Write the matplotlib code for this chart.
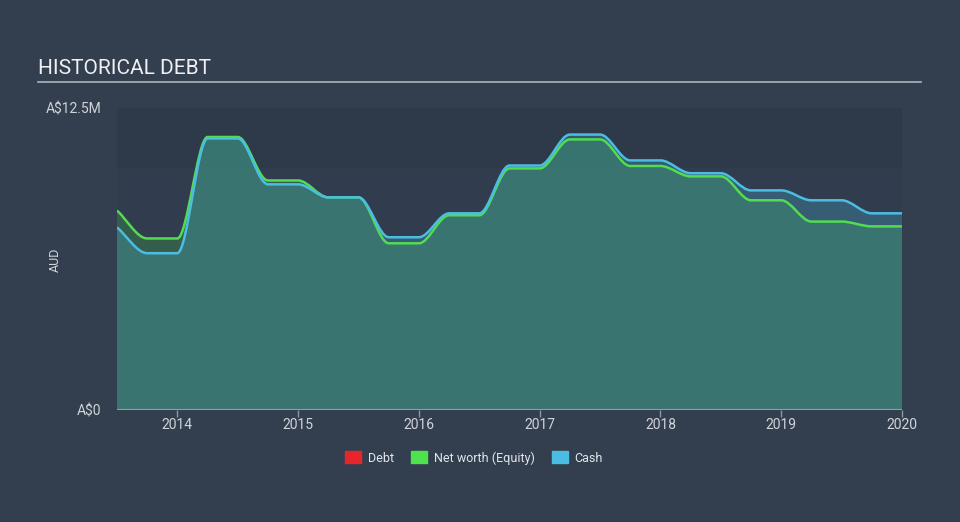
import numpy as np
import matplotlib
matplotlib.use("Agg")
import matplotlib.pyplot as plt
from matplotlib.path import Path
from matplotlib.patches import PathPatch

plt.rcParams['font.family'] = ['Roboto', 'DejaVu Sans']

# data (A$ millions), quarterly points in decimal years
years = [2013.5, 2013.75, 2014.0, 2014.25, 2014.5, 2014.75, 2015.0, 2015.25, 2015.5,
         2015.75, 2016.0, 2016.25, 2016.5, 2016.75, 2017.0, 2017.25, 2017.5, 2017.75,
         2018.0, 2018.25, 2018.5, 2018.75, 2019.0, 2019.25, 2019.5, 2019.75, 2020.0]
equity = [8.26, 7.1, 7.1, 11.3, 11.3, 9.5, 9.5, 8.8, 8.8,
          6.9, 6.9, 8.06, 8.06, 10.0, 10.0, 11.2, 11.2, 10.1,
          10.1, 9.67, 9.67, 8.68, 8.68, 7.8, 7.8, 7.6, 7.6]
cash = [7.56, 6.49, 6.49, 11.24, 11.24, 9.34, 9.34, 8.8, 8.8,
        7.15, 7.15, 8.14, 8.14, 10.12, 10.12, 11.4, 11.4, 10.33,
        10.33, 9.8, 9.8, 9.09, 9.09, 8.68, 8.68, 8.14, 8.14]
debt = [0.0] * len(years)

BG = '#333f4f'


def monotone_path(x, y, close=False):
    # cubic bezier segments, flat tangents at turning/plateau points
    x = np.asarray(x, float)
    y = np.asarray(y, float)
    h = np.diff(x)
    s = np.diff(y) / h
    m = np.zeros(len(x))
    for i in range(1, len(x) - 1):
        if s[i - 1] * s[i] > 0:
            m[i] = 2.0 / (1.0 / s[i - 1] + 1.0 / s[i])
    m[0] = s[0]
    m[-1] = s[-1]
    verts = [(x[0], y[0])]
    codes = [Path.MOVETO]
    for i in range(len(x) - 1):
        d = h[i] / 3.0
        verts += [(x[i] + d, y[i] + m[i] * d), (x[i + 1] - d, y[i + 1] - m[i + 1] * d),
                  (x[i + 1], y[i + 1])]
        codes += [Path.CURVE4] * 3
    if close:
        verts += [(x[-1], 0), (x[0], 0), (x[0], y[0])]
        codes += [Path.LINETO, Path.LINETO, Path.CLOSEPOLY]
    return Path(verts, codes)


fig = plt.figure(figsize=(9.6, 5.22), dpi=100, facecolor=BG)
ax = fig.add_axes([117 / 960, 1 - 410 / 522, (902 - 117) / 960, (410 - 108) / 522])
ax.set_facecolor('#313d4e')
ax.axhspan(10, 12.5, color='#2e3a4a', zorder=0, lw=0)

ax.add_patch(PathPatch(monotone_path(years, equity, True), facecolor='#44d144',
                       alpha=0.22, lw=0, zorder=1))
ax.add_patch(PathPatch(monotone_path(years, cash, True), facecolor='#46b4da',
                       alpha=0.27, lw=0, zorder=1))
ax.add_patch(PathPatch(monotone_path(years, equity), facecolor='none',
                       edgecolor='#52dc52', lw=1.8, zorder=3))
ax.add_patch(PathPatch(monotone_path(years, cash), facecolor='none',
                       edgecolor='#4cbde2', lw=1.8, zorder=3))
ax.plot(years, debt, color='#e0807a', lw=1.5, zorder=4)

ax.set_xlim(2013.5, 2020.0)
ax.set_ylim(0, 12.5)
ax.set_xticks([2014, 2015, 2016, 2017, 2018, 2019, 2020])
ax.set_xticklabels(['2014', '2015', '2016', '2017', '2018', '2019', '2020'])
ax.set_yticks([0, 12.5])
ax.set_yticklabels(['A$0', 'A$12.5M'])
for sp in ax.spines.values():
    sp.set_visible(False)
ax.tick_params(axis='x', colors='#8d96a3', labelcolor='#d0d4da', labelsize=10,
               length=5, width=1, pad=1)
ax.tick_params(axis='y', length=0, labelcolor='#d0d4da', labelsize=10, pad=11)

fig.text(55 / 960, 1 - 260 / 522, 'AUD', color='#d0d4da', fontsize=9,
         rotation=90, ha='center', va='center')
fig.text(38 / 960, 1 - 68 / 522, 'HISTORICAL DEBT', color='#eef0f3', fontsize=15,
         va='center', ha='left')
fig.add_artist(plt.Line2D([38 / 960, 921 / 960], [1 - 82 / 522, 1 - 82 / 522],
                          color='#aeb4bc', lw=1.2))

handles = [plt.Rectangle((0, 0), 1, 1, color=c) for c in ['#e8262a', '#4ce34c', '#4cbde2']]
fig.legend(handles, ['Debt', 'Net worth (Equity)', 'Cash'], loc='center',
           bbox_to_anchor=(474 / 960, 1 - 458 / 522), ncol=3, frameon=False,
           fontsize=9, labelcolor='#e3e6ea', handlelength=1.3, handleheight=1.1,
           columnspacing=1.4, handletextpad=0.5)

fig.savefig('out.png', dpi=100, facecolor=BG)
